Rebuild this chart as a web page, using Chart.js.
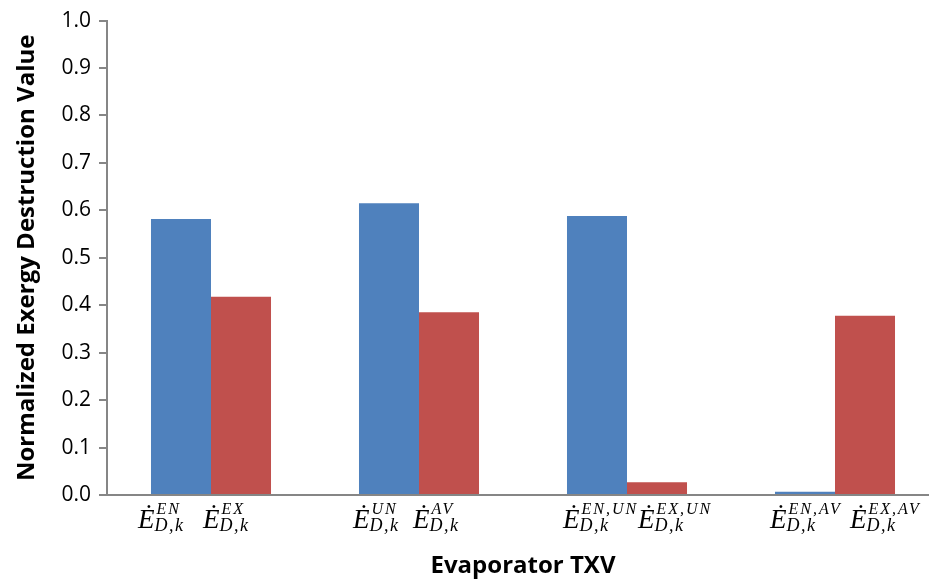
<!DOCTYPE html>
<html>
<head>
<meta charset="utf-8">
<script src="https://cdn.jsdelivr.net/npm/chart.js@4"></script>
<style>
  html, body { margin: 0; padding: 0; overflow: hidden; background: #fff; }
  #wrap { width: 945px; height: 588px; }
</style>
</head>
<body>
<div id="wrap"><canvas id="barChart" width="945" height="588"></canvas></div>
<script>
// Superscripts of the two exergy destruction terms in each group (E-dot with subscript D,k)
const supBlue = ["EN", "UN", "EN,UN", "EN,AV"];
const supRed = ["EX", "AV", "EX,UN", "EX,AV"];
const blueValues = [0.582, 0.615, 0.588, 0.007];
const redValues = [0.418, 0.385, 0.027, 0.378];
const yTicks = [0, 0.1, 0.2, 0.3, 0.4, 0.5, 0.6, 0.7, 0.8, 0.9, 1.0];

// horizontal start of each label relative to its bar centre
const labelShift = [[-43, -38], [-36, -36], [-34, -19], [-35, -15]];

const axisGray = "#868686";

// draws the E-dot terms under the bars
const mathLabels = {
  id: "mathLabels",
  afterDraw(chart) {
    const ctx = chart.ctx;
    ctx.save();
    ctx.fillStyle = "#000";
    ctx.textBaseline = "alphabetic";
    ctx.textAlign = "left";
    [supBlue, supRed].forEach((sups, d) => {
      const meta = chart.getDatasetMeta(d);
      meta.data.forEach((bar, i) => {
        const x0 = bar.x + labelShift[i][d];
        ctx.letterSpacing = "0px";
        ctx.font = 'italic 27px "Liberation Serif"';
        ctx.fillText("\u0116", x0, 528);
        const w = ctx.measureText("\u0116").width;
        ctx.font = 'italic 16px "Liberation Serif"';
        ctx.letterSpacing = "2px";
        ctx.fillText(sups[i], x0 + w + 2, 514);
        ctx.font = 'italic 18px "Liberation Serif"';
        ctx.letterSpacing = "1.5px";
        ctx.fillText("D,k", x0 + w, 531);
      });
    });
    ctx.restore();
  }
};

const ctxBar = document.getElementById("barChart").getContext("2d");
new Chart(ctxBar, {
  type: "bar",
  data: {
    labels: supBlue.map((s, i) => s + " / " + supRed[i]),
    datasets: [
      { data: blueValues, backgroundColor: "#4F81BD" },
      { data: redValues, backgroundColor: "#C0504D" }
    ]
  },
  options: {
    responsive: false,
    animation: false,
    layout: { padding: { top: 17, right: 6, bottom: 0, left: 0 } },
    datasets: { bar: { barPercentage: 1, categoryPercentage: 0.577 } },
    plugins: { legend: { display: false }, tooltip: { enabled: false } },
    scales: {
      x: {
        grid: { display: false },
        border: { color: axisGray, width: 2 },
        ticks: { display: false },
        title: {
          display: true,
          text: "Evaporator TXV",
          color: "#000",
          font: { family: "Open Sans", size: 24, weight: "bold" },
          padding: { top: 0, bottom: 7 }
        },
        afterFit(scale) { scale.height = 93; }
      },
      y: {
        min: 0,
        max: 1,
        afterBuildTicks(scale) { scale.ticks = yTicks.map(v => ({ value: v })); },
        grid: { drawOnChartArea: false, drawTicks: true, tickLength: 8, color: axisGray, lineWidth: 2 },
        border: { color: axisGray, width: 2 },
        ticks: {
          padding: 8,
          color: "#000",
          font: { family: "Open Sans", size: 21 },
          callback: v => v.toFixed(1)
        },
        title: {
          display: true,
          text: "Normalized Exergy Destruction Value",
          color: "#000",
          font: { family: "Open Sans", size: 24, weight: "bold" },
          padding: { top: 13, bottom: 0 }
        },
        afterFit(scale) { scale.width = 107; }
      }
    }
  },
  plugins: [mathLabels]
});
</script>
</body>
</html>
